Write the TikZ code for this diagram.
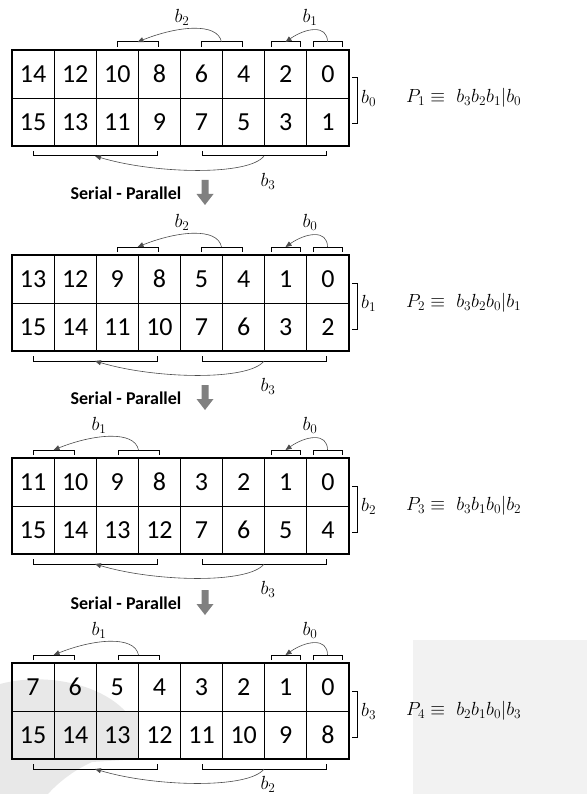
\documentclass[tikz,border=0pt]{standalone}
\usepackage{fontspec}
\usepackage{fix-cm}
\newfontfamily\calfont{Carlito}
\usetikzlibrary{arrows.meta}
\tikzset{
  cell/.style={draw, line width=0.9pt, minimum width=42.125pt, minimum height=48pt, inner sep=0pt,
    font=\calfont\fontsize{26}{26}\selectfont},
  frame/.style={line width=1.1pt},
  midline/.style={line width=1.6pt},
  brk/.style={line width=1pt},
  swaparc/.style={draw=black!70, line width=0.6pt, -{Triangle[length=6pt,width=5pt]}},
  lbl/.style={font=\fontsize{19}{19}\selectfont, inner sep=1pt},
  sptext/.style={font=\calfont\bfseries\fontsize{18}{18}\selectfont, inner sep=0pt},
  sparrow/.style={fill=black!50},
  wmark/.style={fill=black!9},
  wmarklight/.style={fill=black!5}
}
\def\bigA{\def\sa{201}\def\sb{242}\def\ta{117}\def\tb{158}\def\lx{182}}
\def\bigB{\def\sa{118}\def\sb{159}\def\ta{33}\def\tb{74}\def\lx{99}}
\def\blaby{131}
\newcommand\panel[9]{%
\begin{scope}[shift={(0,#2)}]
#5
\foreach \v [count=\i from 0] in {#3} \node[cell] (p#1u\i) at ({12+42.125*(\i+0.5)},24) {\v};
\foreach \v [count=\i from 0] in {#4} \node[cell] (p#1d\i) at ({12+42.125*(\i+0.5)},72) {\v};
\draw[frame] (12,0) rectangle (349,96);
\draw[midline] (180.5,0) -- (180.5,96);
% top brackets
\draw[brk] (\sa,-3) -- (\sa,-8) -- (\sb,-8) -- (\sb,-3);
\draw[brk] (\ta,-3) -- (\ta,-8) -- (\tb,-8) -- (\tb,-3);
\draw[brk] (313,-3) -- (313,-8) -- (342,-8) -- (342,-3);
\draw[brk] (271,-3) -- (271,-8) -- (300,-8) -- (300,-3);
\coordinate (p#1bs) at ({(\sa+\sb)/2},-8);
\coordinate (p#1bt) at ({(\ta+\tb)/2},-8);
\coordinate (p#1ss) at (327.5,-8);
\coordinate (p#1st) at (285.5,-8);
\draw[swaparc] (p#1bs) .. controls +(-4,-20) and +(40,-16) .. (p#1bt);
\draw[swaparc] (p#1ss) .. controls +(0,-18) and +(20,-14) .. (p#1st);
\node[lbl] (p#1bl) at (\lx,-33) {$#6$};
\node[lbl] (p#1sl) at (310,-33) {$#7$};
% bottom brackets
\draw[brk] (33,101) -- (33,106) -- (157,106) -- (157,101);
\draw[brk] (202,101) -- (202,106) -- (326,106) -- (326,101);
\coordinate (p#1ls) at (264,106);
\coordinate (p#1lt) at (95,106);
\draw[swaparc] (p#1ls) .. controls +(-15,20) and +(60,18) .. (p#1lt);
\node[lbl] (p#1dl) at (268,\blaby) {$#9$};
% right bracket
\draw[brk] (352,28) -- (357,28) -- (357,74) -- (352,74);
\node[lbl,anchor=west] (p#1rl) at (360,48) {$#8$};
\end{scope}}
\newcommand\sparstep[2]{%
\node[sptext] (sp#1) at (126,#2) {Serial - Parallel};
\fill[sparrow] (201.5,#2-13) -- (208.5,#2-13) -- (208.5,#2+1) -- (213.5,#2+1) -- (205,#2+12) -- (196.5,#2+1) -- (201.5,#2+1) -- cycle;
}
\begin{document}
\begin{tikzpicture}[x=1pt,y=-1pt]
\useasboundingbox[fill=white] (0,0) rectangle (587,794);
% faint watermark behind the last panel
\fill[wmarklight] (413,640) rectangle (587,794);
\fill[wmark] (0,684) .. controls (45,672) and (100,684) .. (125,711) -- (138,711) -- (138,759)
  -- (92,762) .. controls (70,772) and (55,786) .. (48,794) -- (0,794) -- cycle;
\panel{1}{50}{14,12,10,8,6,4,2,0}{15,13,11,9,7,5,3,1}{\bigA}{b_2}{b_1}{b_0}{b_3}
\node[lbl,anchor=west] (f1) at (405,98) {$P_1\equiv\ b_3b_2b_1|b_0$};
\sparstep{1}{193}
\panel{2}{255}{13,12,9,8,5,4,1,0}{15,14,11,10,7,6,3,2}{\bigA}{b_2}{b_0}{b_1}{b_3}
\node[lbl,anchor=west] (f2) at (405,303) {$P_2\equiv\ b_3b_2b_0|b_1$};
\sparstep{2}{398}
\panel{3}{458}{11,10,9,8,3,2,1,0}{15,14,13,12,7,6,5,4}{\bigB}{b_1}{b_0}{b_2}{b_3}
\node[lbl,anchor=west] (f3) at (405,506) {$P_3\equiv\ b_3b_1b_0|b_2$};
\sparstep{3}{603}
\def\blaby{121}
\panel{4}{663}{7,6,5,4,3,2,1,0}{15,14,13,12,11,10,9,8}{\bigB}{b_1}{b_0}{b_3}{b_2}
\node[lbl,anchor=west] (f4) at (405,711) {$P_4\equiv\ b_2b_1b_0|b_3$};
\end{tikzpicture}
\end{document}
